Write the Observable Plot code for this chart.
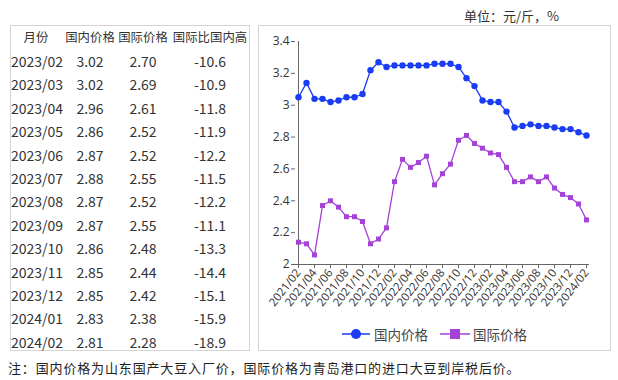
<!DOCTYPE html>
<html><head><meta charset="utf-8">
<script src="https://cdn.jsdelivr.net/npm/d3@7"></script>
<script src="https://cdn.jsdelivr.net/npm/@observablehq/plot@0.6"></script>
<style>
body{margin:0;background:#fff;font-family:"Noto Sans CJK SC","Noto Sans",sans-serif;color:#333;}
#wrap{position:relative;width:618px;height:380px;overflow:hidden;}
.abs{position:absolute;white-space:nowrap;}
#tbl{position:absolute;left:10px;top:25px;width:238px;height:324px;border:1px solid #d4d4d4;}
#box{position:absolute;left:258px;top:25px;width:351px;height:324px;border:1px solid #d4d4d4;}
.cell{position:absolute;font-size:13px;line-height:16px;transform:translate(-50%,-50%);white-space:nowrap;color:#333;}
</style></head>
<body><div id="wrap"></div>
<script>
const months = [];
for (let y = 2021; y <= 2024; y++) for (let m = 1; m <= 12; m++) {
  const s = y + "/" + String(m).padStart(2, "0");
  if (s >= "2021/02" && s <= "2024/02") months.push(s);
}
const domestic = [3.05,3.14,3.04,3.04,3.02,3.03,3.05,3.05,3.07,3.22,3.27,3.24,3.25,3.25,3.25,3.25,3.25,3.26,3.26,3.26,3.24,3.17,3.12,3.03,3.02,3.02,2.96,2.86,2.87,2.88,2.87,2.87,2.86,2.85,2.85,2.83,2.81];
const international = [2.14,2.13,2.06,2.37,2.40,2.36,2.30,2.30,2.27,2.13,2.16,2.23,2.52,2.66,2.61,2.64,2.68,2.50,2.57,2.63,2.78,2.81,2.76,2.73,2.70,2.69,2.61,2.52,2.52,2.55,2.52,2.55,2.48,2.44,2.42,2.38,2.28];
const tableHeader = ["月份","国内价格","国际价格","国际比国内高"];
const tableMonths = ["2023/02","2023/03","2023/04","2023/05","2023/06","2023/07","2023/08","2023/09","2023/10","2023/11","2023/12","2024/01","2024/02"];
const tableDomestic = ["3.02","3.02","2.96","2.86","2.87","2.88","2.87","2.87","2.86","2.85","2.85","2.83","2.81"];
const tableIntl = ["2.70","2.69","2.61","2.52","2.52","2.55","2.52","2.55","2.48","2.44","2.42","2.38","2.28"];
const tableDiff = ["-10.6","-10.9","-11.8","-11.9","-12.2","-11.5","-12.2","-11.1","-13.3","-14.4","-15.1","-15.9","-18.9"];
const yTicks = [2,2.2,2.4,2.6,2.8,3,3.2,3.4];
const seriesNames = ["国内价格","国际价格"];
const colors = ["#1a3cf5","#a443d6"];
const unitText = "单位：元/斤，%";
const noteText = "注：国内价格为山东国产大豆入厂价，国际价格为青岛港口的进口大豆到岸税后价。";

const wrap = document.getElementById("wrap");
function add(html, style, cls) {
  const d = document.createElement("div");
  d.className = cls || "abs";
  d.innerHTML = html;
  Object.assign(d.style, style);
  wrap.appendChild(d);
  return d;
}
// unit
add(unitText, {left:"464px", top:"6px", fontSize:"13px", color:"#333"});
// table
add("", {}, "").id = "tbl";
const colX = [36, 90, 143, 210];
tableHeader.forEach((h,i)=> add(h, {left:(colX[i])+"px", top:"37px", fontSize:"12.4px"}, "cell"));
tableMonths.forEach((m,r)=>{
  const yy = 61 + r*23.4;
  [m, tableDomestic[r], tableIntl[r], tableDiff[r]].forEach((v,i)=>{
    const x = i===0 ? 37 : colX[i];
    add(v, {left:x+"px", top:yy+"px", fontSize:"14px"}, "cell");
  });
});
// chart box
add("", {}, "").id = "box";

const rows = [];
months.forEach((m,i)=>{
  rows.push({month:m, series:seriesNames[0], value:domestic[i]});
  rows.push({month:m, series:seriesNames[1], value:international[i]});
});
const chart = Plot.plot({
  width: 352, height: 310,
  marginLeft: 37, marginRight: 21, marginTop: 16, marginBottom: 71,
  style: {fontFamily: "'Open Sans','Noto Sans',sans-serif", fontSize: "11px", color: "#333", background: "transparent"},
  x: {type: "point", domain: months, padding: 0, label: null},
  y: {domain: [2, 3.4], label: null},
  color: {domain: seriesNames, range: colors},
  marks: [
    Plot.ruleY([2], {stroke: "#666"}),
    Plot.ruleX([months[0]], {stroke: "#666"}),
    Plot.axisY({ticks: yTicks, tickFormat: d => String(+d.toFixed(1)), tickSize: 4, tickPadding: 2, stroke: "#666", fontSize: 12, label: null}),
    Plot.axisX({ticks: months.filter((d,i)=>i%2===0), tickRotate: -52, tickSize: 4, tickPadding: 2, stroke: "#666", fontSize: 11.5, label: null}),
    Plot.line(rows, {x: "month", y: "value", z: "series", stroke: "series", strokeWidth: 1.3}),
    Plot.dot(rows.filter(d=>d.series===seriesNames[0]), {x: "month", y: "value", fill: colors[0], r: 3.2}),
    Plot.dot(rows.filter(d=>d.series===seriesNames[1]), {x: "month", y: "value", fill: colors[1], symbol: "square", r: 2.8})
  ]
});
chart.style.position = "absolute";
chart.style.left = "258px";
chart.style.top = "25px";
wrap.appendChild(chart);

// legend
const leg = add("", {left:"340px", top:"324px"});
leg.innerHTML = `
<svg width="200" height="20" style="position:absolute;left:0;top:0">
 <line x1="2" y1="10" x2="30" y2="10" stroke="${colors[0]}" stroke-width="1.5"/>
 <circle cx="16" cy="10" r="5" fill="${colors[0]}"/>
 <line x1="100" y1="10" x2="130" y2="10" stroke="${colors[1]}" stroke-width="1.5"/>
 <rect x="110" y="5" width="10" height="10" fill="${colors[1]}"/>
</svg>
<span style="position:absolute;left:34px;top:0;font-size:13.5px;line-height:20px;color:#444">${seriesNames[0]}</span>
<span style="position:absolute;left:133px;top:0;font-size:13.5px;line-height:20px;color:#444">${seriesNames[1]}</span>`;

// note
add(noteText, {left:"8px", top:"358px", fontSize:"13px", letterSpacing:"0.85px", color:"#222"});
</script></body></html>
